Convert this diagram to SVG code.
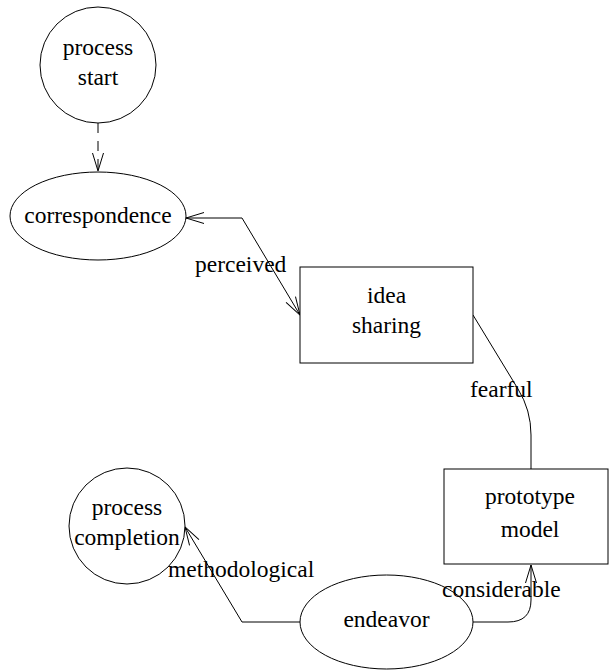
<svg xmlns="http://www.w3.org/2000/svg" width="610" height="671" viewBox="0 0 610 671">
<style>
.n{fill:#fff;stroke:#000;stroke-width:1}
.t{font-family:'Liberation Serif','Times New Roman','DejaVu Serif',serif;font-size:23.5px;fill:#000}
.c{text-anchor:middle}
.e{fill:none;stroke:#000;stroke-width:1}
</style>
<defs>
<marker id="a" markerUnits="userSpaceOnUse" viewBox="-19 -7 20 14" refX="0" refY="0" markerWidth="20" markerHeight="14" orient="auto-start-reverse" overflow="visible">
<path d="M -18 -5.5 L 0 0 L -18 5.5" fill="none" stroke="#000" stroke-width="1"/>
</marker>
</defs>
<rect width="610" height="671" fill="#fff"/>
<g id="connectors">
<path class="e" d="M 98 123 L 98 171" stroke-dasharray="10,8" marker-end="url(#a)"/>
<path class="e" d="M 186 218 L 242 218 L 300 315" marker-start="url(#a)" marker-end="url(#a)"/>
<path class="e" d="M 473 315 L 518 389 Q 531 410 531 435 L 531 469"/>
<path class="e" d="M 473 622 L 508 622 Q 531 622 531 600 L 531 565" marker-end="url(#a)"/>
<path class="e" d="M 300 622 L 242 622 L 185 527" marker-end="url(#a)"/>
</g>
<g id="process-start">
<circle class="n" cx="98" cy="65" r="58"/>
<text class="t c" x="98" y="55">process</text>
<text class="t c" x="98" y="85">start</text>
</g>
<g id="correspondence">
<ellipse class="n" cx="98" cy="216" rx="88" ry="44"/>
<text class="t c" x="98" y="223">correspondence</text>
</g>
<g id="idea-sharing">
<rect class="n" x="300" y="267" width="173" height="96"/>
<text class="t c" x="386.5" y="303">idea</text>
<text class="t c" x="386.5" y="333">sharing</text>
</g>
<g id="prototype-model">
<rect class="n" x="444" y="469" width="164" height="95"/>
<text class="t c" x="530" y="504">prototype</text>
<text class="t c" x="530" y="537">model</text>
</g>
<g id="endeavor">
<ellipse class="n" cx="386.5" cy="622" rx="86.5" ry="47"/>
<text class="t c" x="386.5" y="627">endeavor</text>
</g>
<g id="process-completion">
<circle class="n" cx="127" cy="526" r="58"/>
<text class="t c" x="127" y="515">process</text>
<text class="t c" x="127" y="545">completion</text>
</g>
<g id="labels">
<text class="t" x="195" y="272">perceived</text>
<text class="t" x="470" y="397">fearful</text>
<text class="t" x="168" y="577">methodological</text>
<text class="t" x="442" y="597">considerable</text>
</g>
</svg>
